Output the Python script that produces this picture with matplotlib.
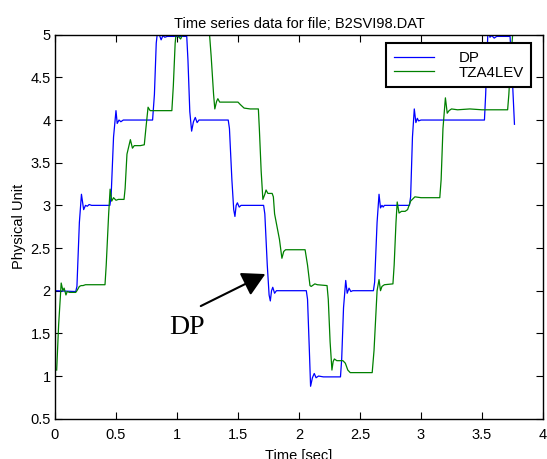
import numpy as np
import matplotlib
matplotlib.use('Agg')
import matplotlib.pyplot as plt

plt.rcParams['font.family'] = ['Liberation Sans', 'DejaVu Sans']

# DP trace (time [sec], value)
dp_t = [0.00, 0.17, 0.18, 0.20, 0.217, 0.235, 0.25, 0.265, 0.28, 0.30, 0.45,
        0.46, 0.48, 0.50, 0.51, 0.525, 0.54, 0.56, 0.80,
        0.815, 0.83, 0.845, 0.86, 0.87, 0.885, 0.90, 0.92, 1.08,
        1.09, 1.105, 1.12, 1.135, 1.15, 1.165, 1.18, 1.42,
        1.43, 1.45, 1.465, 1.475, 1.485, 1.495, 1.51, 1.525, 1.71,
        1.72, 1.74, 1.755, 1.765, 1.775, 1.785, 1.80, 1.815, 2.06,
        2.07, 2.085, 2.095, 2.11, 2.125, 2.14, 2.16, 2.20, 2.30, 2.34,
        2.35, 2.365, 2.383, 2.395, 2.41, 2.425, 2.44, 2.61,
        2.62, 2.64, 2.656, 2.668, 2.68, 2.69, 2.70, 2.905,
        2.915, 2.93, 2.945, 2.958, 2.97, 2.98, 3.00, 3.52,
        3.53, 3.55, 3.565, 3.58, 3.60, 3.62, 3.73, 3.745, 3.766]
dp_v = [2.00, 1.99, 2.05, 2.80, 3.13, 2.95, 3.00, 2.99, 3.01, 3.00, 3.00,
        3.10, 3.80, 4.11, 3.96, 4.00, 3.98, 4.00, 4.00,
        4.30, 4.90, 5.10, 4.98, 4.94, 4.99, 4.97, 4.98, 4.98,
        4.70, 4.10, 3.87, 3.98, 4.03, 3.97, 4.00, 4.00,
        3.90, 3.30, 2.95, 2.87, 3.00, 3.03, 2.98, 3.00, 3.00,
        2.90, 2.30, 1.95, 1.88, 2.00, 2.04, 1.97, 2.00, 2.00,
        1.90, 1.30, 0.88, 0.98, 1.03, 0.98, 1.00, 0.99, 0.99, 0.99,
        1.20, 1.80, 2.12, 1.97, 2.03, 1.99, 2.00, 2.00,
        2.10, 2.80, 3.13, 2.97, 3.00, 2.98, 3.00, 3.00,
        3.10, 3.80, 4.13, 3.97, 4.02, 3.99, 4.00, 4.00,
        4.30, 5.10, 4.97, 4.99, 4.96, 4.98, 4.98, 4.60, 3.95]

# TZA4LEV trace (time [sec], value)
tza_t = [0.014, 0.03, 0.051, 0.065, 0.075, 0.09, 0.10, 0.12, 0.17, 0.18, 0.20,
         0.215, 0.23, 0.25, 0.41, 0.42, 0.44, 0.452, 0.465, 0.48, 0.50, 0.52,
         0.566, 0.575, 0.59, 0.618, 0.635, 0.65, 0.70, 0.732, 0.745, 0.763,
         0.78, 0.80, 0.958, 0.97, 0.985, 0.995, 1.01, 1.03, 1.045, 1.06, 1.10,
         1.267, 1.28, 1.30, 1.31, 1.325, 1.335, 1.35, 1.50, 1.52, 1.55, 1.60,
         1.667, 1.675, 1.69, 1.704, 1.72, 1.73, 1.745, 1.78, 1.79, 1.80, 1.84,
         1.86, 1.875, 1.89, 1.92, 2.05, 2.07, 2.09, 2.10, 2.13, 2.15, 2.23,
         2.24, 2.255, 2.27, 2.28, 2.29, 2.31, 2.36, 2.38, 2.40, 2.42, 2.60,
         2.615, 2.64, 2.656, 2.668, 2.68, 2.70, 2.77, 2.78, 2.795, 2.805, 2.82,
         2.84, 2.87, 2.89, 2.915, 2.95, 3.00, 3.154, 3.165, 3.18, 3.20, 3.215,
         3.23, 3.25, 3.30, 3.40, 3.50, 3.71, 3.72, 3.74, 3.754]
tza_v = [1.07, 1.60, 2.09, 2.00, 2.03, 1.95, 1.99, 1.98, 1.98, 2.00, 2.05,
         2.06, 2.06, 2.07, 2.07, 2.30, 2.90, 3.19, 3.05, 3.09, 3.06, 3.07,
         3.07, 3.20, 3.60, 3.77, 3.67, 3.70, 3.70, 3.71, 3.90, 4.15,
         4.11, 4.11, 4.11, 4.40, 4.90, 5.05, 4.98, 4.95, 5.00, 4.99, 5.00,
         5.00, 4.75, 4.30, 4.13, 4.22, 4.25, 4.21, 4.21, 4.18, 4.14, 4.13,
         4.13, 3.90, 3.40, 3.07, 3.13, 3.18, 3.14, 3.14, 3.10, 2.90, 2.60,
         2.38, 2.46, 2.48, 2.48, 2.48, 2.30, 2.06, 2.05, 2.08, 2.07, 2.06,
         1.90, 1.40, 1.07, 1.17, 1.20, 1.18, 1.18, 1.15, 1.07, 1.04, 1.04,
         1.30, 2.00, 2.13, 2.00, 2.05, 2.07, 2.08, 2.30, 2.80, 3.04, 2.91,
         2.93, 2.93, 2.95, 3.05, 3.10, 3.09, 3.09, 3.30, 3.90, 4.26, 4.08,
         4.11, 4.13, 4.12, 4.13, 4.12, 4.12, 4.30, 4.80, 5.05]

fig = plt.figure(figsize=(5.47, 4.59), dpi=100)
ax = fig.add_axes([0.1005, 0.0878, 0.8922, 0.8366])

ax.plot(dp_t, dp_v, color='#0000ff', linewidth=0.9, label='DP')
ax.plot(tza_t, tza_v, color='#008000', linewidth=0.9, label='TZA4LEV')

ax.set_xlim(0, 4)
ax.set_ylim(0.5, 5)
ax.set_xticks(np.arange(0, 4.01, 0.5))
ax.set_xticklabels(['0', '0.5', '1', '1.5', '2', '2.5', '3', '3.5', '4'])
ax.set_yticks(np.arange(0.5, 5.01, 0.5))
ax.set_yticklabels(['0.5', '1', '1.5', '2', '2.5', '3', '3.5', '4', '4.5', '5'])
ax.tick_params(direction='in', top=True, right=True, length=5, width=0.8,
               labelsize=10.5)
ax.tick_params(axis='x', pad=7)
ax.tick_params(axis='y', pad=3)
for sp in ax.spines.values():
    sp.set_linewidth(1.0)

ax.set_title('Time series data for file; B2SVI98.DAT', fontsize=10.5, pad=5)
ax.set_xlabel('Time [sec]', fontsize=10.5, labelpad=5)
ax.set_ylabel('Physical Unit', fontsize=10.5, labelpad=3)

leg = ax.legend(loc='upper right', bbox_to_anchor=(0.9754, 0.9776),
                borderaxespad=0, fontsize=10.8,
                handlelength=2.7, handletextpad=1.6, labelspacing=0.05,
                borderpad=0.5, fancybox=False, framealpha=1,
                edgecolor='black')
leg.get_frame().set_linewidth(1.5)

ax.annotate('', xy=(1.724, 2.195), xytext=(1.195, 1.82),
            arrowprops=dict(arrowstyle='-|>,head_length=1.0,head_width=0.55',
                            color='black', lw=1.5, mutation_scale=14,
                            shrinkA=0, shrinkB=0))
ax.text(1.08, 1.57, 'DP', fontsize=20, family=['Liberation Serif', 'DejaVu Serif'],
        ha='center', va='center')

fig.savefig('out.png', dpi=100)
